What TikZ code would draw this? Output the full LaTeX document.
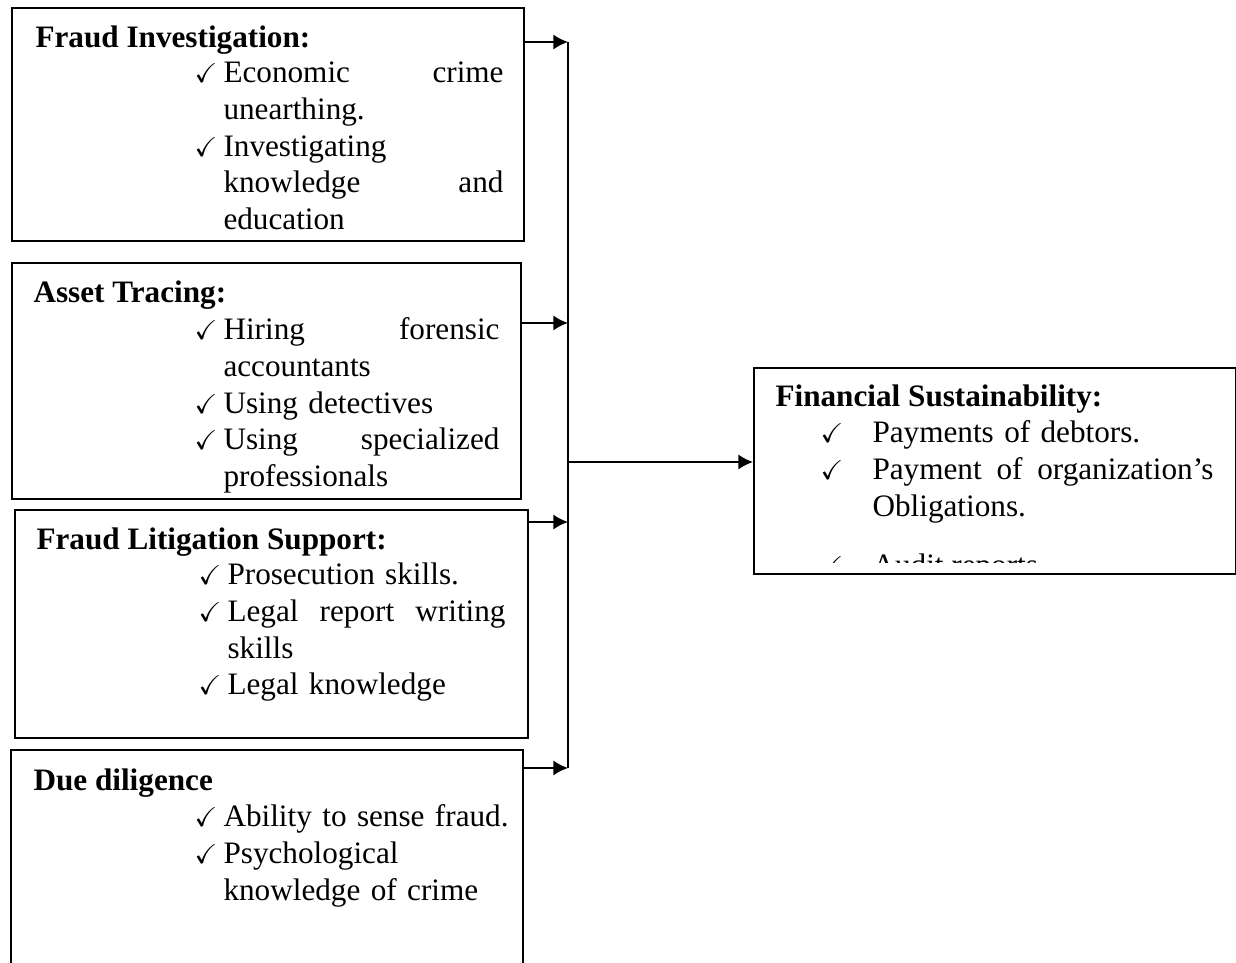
\documentclass[tikz,border=0pt]{standalone}
\usepackage{amsmath, amssymb}
\usepackage{fontspec}
\setmainfont{Liberation Serif}
\usetikzlibrary{arrows.meta}
\newdimen\px \px=0.3846pt
\newcommand{\tick}[1][26]{\makebox[#1\px][l]{\kern-3\px\fontsize{10.5}{10}\selectfont$\checkmark$}}
\newcommand{\gap}[1][26]{\hspace*{#1\px}}
\tikzset{
  box/.style={draw, line width=0.75pt, inner sep=0pt, anchor=north west},
  head/.style={anchor=base west, inner sep=0pt, font=\fontsize{12}{14.08}\selectfont\bfseries},
  items/.style={anchor=base west, inner sep=0pt, align=left, font=\fontsize{12}{14.08}\selectfont},
  conn/.style={line width=0.75pt, -{Latex[length=5.6pt,width=5.8pt]}}
}
\begin{document}
\begin{tikzpicture}[x=0.3846pt, y=-0.3846pt]
        \useasboundingbox (0,0) rectangle (1236,963);
        \node[box, minimum width=512\px, minimum height=233\px] (fi) at (11,7) {};
        \node[box, minimum width=509\px, minimum height=236\px] (at) at (11,262) {};
        \node[box, minimum width=513\px, minimum height=228\px] (fl) at (14,509) {};
        \node[box, minimum width=512\px, minimum height=260\px] (dd) at (10,749) {};
        \node[box, minimum width=482\px, minimum height=206\px] (fs) at (753,367) {};

        \node[head] (fih) at (35,48) {Fraud Investigation:};
        \node[items, text width=306\px] (fil) at (197,83)
            {\tick Economic\hfill crime\\ \gap unearthing.\\ \tick Investigating\\ \gap knowledge\hfill and\\ \gap education};
        \node[head] (ath) at (33,303) {Asset Tracing:};
        \node[items, text width=302\px] (atl) at (197,340)
            {\tick Hiring\hfill forensic\\ \gap accountants\\ \tick Using detectives\\ \tick Using\hfill specialized\\ \gap professionals};
        \node[head] (flh) at (36,550) {Fraud Litigation Support:};
        \node[items, text width=304\px] (fll) at (201,585)
            {\tick Prosecution skills.\\ \tick Legal\hfill report\hfill writing\\ \gap skills\\ \tick Legal knowledge};
        \node[head] (ddh) at (33,791) {Due diligence};
        \node[items, text width=320\px] (ddl) at (197,827)
            {\tick Ability to sense fraud.\\ \tick Psychological\\ \gap knowledge of crime};
        \node[head] (fsh) at (775,407) {Financial Sustainability:};
        \node[items, text width=390\px] (fsl) at (823,443)
            {\tick[49]Payments of debtors.\\ \tick[49]Payment\hfill of\hfill organization's\\ \gap[49]Obligations.};
        \begin{scope}
            \clip (753,367) rectangle (1235,563);
            \node[items] (fsa) at (823,576) {\tick[49]Audit reports};
        \end{scope}

        \coordinate (bt) at (568,42);
        \coordinate (bb) at (568,768);
        \draw[line width=0.75pt] (bt) -- (bb);
        \foreach \b/\y in {fi/42, at/323, fl/522, dd/768}
        \draw[conn] (\b.east |- 0,\y) -- (bt |- 0,\y);
        \draw[conn] (bt |- 0,462) -- (fs.west |- 0,462);
    \end{tikzpicture}
\end{document}
